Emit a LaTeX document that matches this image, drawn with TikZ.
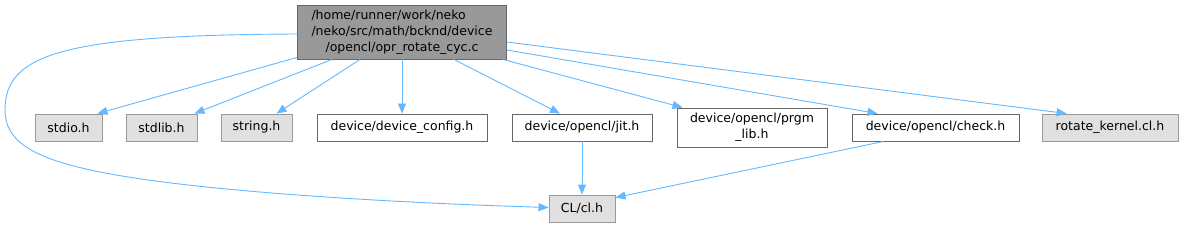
\documentclass[tikz,border=0pt]{standalone}
\usepackage{fontspec}
\setmainfont{DejaVu Sans}
\usepackage{calc}
\usetikzlibrary{arrows.meta,positioning}
\definecolor{edgeblue}{HTML}{63B8FF}
\definecolor{mainfill}{HTML}{999999}
\definecolor{mainline}{HTML}{666666}
\definecolor{sysfill}{HTML}{E0E0E0}
\definecolor{sysline}{HTML}{999999}
\tikzset{
    >={Triangle[length=10pt,width=8pt]},
    header/.style={
        rectangle,
        draw=mainline,
        line width=0.9pt,
        fill=white,
        minimum height=27pt,
        inner sep=0pt,
        text centered,
        font={\fontsize{12.5pt}{16pt}\selectfont}
    },
    sysheader/.style={header, draw=sysline, fill=sysfill},
    mainfile/.style={header, fill=mainfill, align=center},
    dep/.style={draw=edgeblue, line width=0.9pt, ->},
}

\begin{document}
\begin{tikzpicture}[x=1pt,y=-1pt]
\useasboundingbox (0,0) rectangle (1183,227);

% Files
\node[mainfile, minimum width=209pt, minimum height=54pt] (main) at (402,32)
    {\makebox[\widthof{/neko/src/math/bcknd/device}][l]{/home/runner/work/neko}\\/neko/src/math/bcknd/device\\/opencl/opr\_rotate\_cyc.c};
\node[sysheader, minimum width=67pt] (stdio) at (68.5,127.5) {stdio.h};
\node[sysheader, minimum width=71pt] (stdlib) at (161.5,127.5) {stdlib.h};
\node[sysheader, minimum width=71pt] (string) at (256.5,127.5) {string.h};
\node[header, minimum width=170pt] (config) at (402,127.5) {device/device\_config.h};
\node[header, minimum width=140pt] (jit) at (582,127.5) {device/opencl/jit.h};
\node[header, minimum width=150pt, minimum height=39pt, align=center] (prgm) at (752,127.5) {device/opencl/prgm\\\_lib.h};
\node[header, minimum width=167pt] (check) at (935.5,127.5) {device/opencl/check.h};
\node[sysheader, minimum width=136pt] (kernel) at (1110,127.5) {rotate\_kernel.cl.h};
\node[sysheader, minimum width=66pt] (cl) at (582,208.5) {CL/cl.h};

% Includes of the main file
\draw[dep] ([yshift=2pt]main.south west) -- ([xshift=-5pt]stdio.north east);
\draw[dep] ([xshift=35pt]main.south west) -- ([xshift=-3pt]stdlib.north east);
\draw[dep] ([xshift=63pt]main.south west) -- ([xshift=20pt]string.north);
\draw[dep] (main.south) -- (config.north);
\draw[dep] ([xshift=-53pt]main.south east) -- ([xshift=-22pt]jit.north);
\draw[dep] ([xshift=-4pt]main.south east) -- ([xshift=6pt]prgm.north west);
\draw[dep] ([yshift=-18pt]main.east) -- ([xshift=26pt]check.north west);
\draw[dep] ([yshift=-10pt]main.east) -- ([xshift=25pt]kernel.north west);
\draw[dep] ([yshift=-2pt]main.west) .. controls (60,35) and (5,55) .. (5,110)
    .. controls (5,140) and (30,158) .. (100,172)
    .. controls (200,192) and (400,203) .. ([yshift=1pt]cl.west);

% Includes further down
\draw[dep] (jit.south) -- (cl.north);
\draw[dep] ([xshift=-52pt]check.south) -- ([yshift=-3pt]cl.north east);
\end{tikzpicture}
\end{document}
